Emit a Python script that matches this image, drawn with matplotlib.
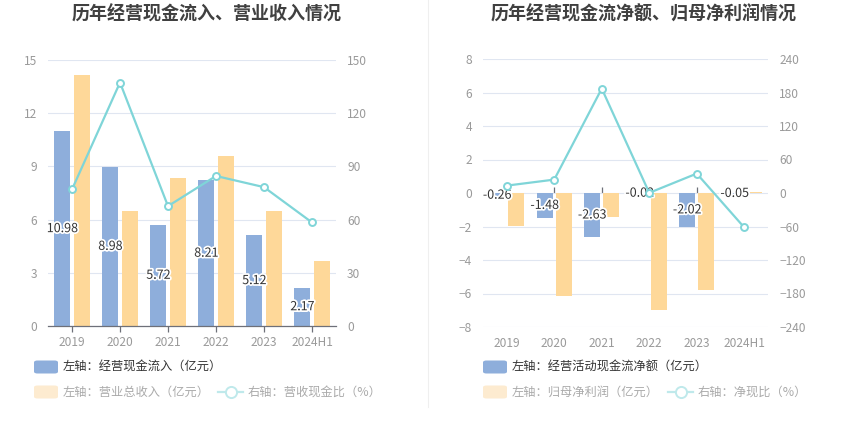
import matplotlib
matplotlib.use("Agg")
import matplotlib.pyplot as plt
from matplotlib.patches import FancyBboxPatch
from matplotlib.lines import Line2D
import matplotlib.patheffects as pe
import numpy as np

plt.rcParams['font.family'] = ['Noto Sans CJK SC', 'DejaVu Sans']

# ---------------- data ----------------
categories = ["2019", "2020", "2021", "2022", "2023", "2024H1"]

# left chart
cash_inflow = [10.98, 8.98, 5.72, 8.21, 5.12, 2.17]          # 经营现金流入 (亿元)
revenue = [14.18, 6.46, 8.37, 9.61, 6.46, 3.65]               # 营业总收入 (亿元)
cash_revenue_ratio = [77.0, 137.3, 67.6, 84.6, 78.3, 58.4]    # 营收现金比 (%)

# right chart
net_cash_flow = [-0.26, -1.48, -2.63, -0.02, -2.02, -0.05]    # 经营活动现金流净额 (亿元)
net_profit = [-1.98, -6.13, -1.42, -6.97, -5.77, 0.08]        # 归母净利润 (亿元)
net_cash_ratio = [13.2, 24.0, 187.0, 0.3, 34.8, -61.7]        # 净现比 (%)

left_titles = "历年经营现金流入、营业收入情况"
right_titles = "历年经营现金流净额、归母净利润情况"
left_legend = ["左轴：经营现金流入（亿元）", "左轴：营业总收入（亿元）", "右轴：营收现金比（%）"]
right_legend = ["左轴：经营活动现金流净额（亿元）", "左轴：归母净利润（亿元）", "右轴：净现比（%）"]

# ---------------- style ----------------
BLUE = "#8eaedb"
ORANGE = "#fed899"
CYAN = "#7fd5d8"
GRID = "#e0e6f1"
AXIS = "#6e7079"
TICK_TXT = "#9a9a9a"
W, H = 850, 437

fig = plt.figure(figsize=(W / 100, H / 100), dpi=100)


def fx(x):
    return x / W


def fy(y):
    return 1 - y / H


def make_axes(x0, x1, y0, y1):
    return fig.add_axes([fx(x0), fy(y1), fx(x1) - fx(x0), fy(y0) - fy(y1)])


def style_axes(ax, ax2, ylim, yticks, y2lim, y2ticks, zero_axis):
    x = np.arange(len(categories))
    ax.set_xlim(-0.5, len(categories) - 0.5)
    ax.set_ylim(*ylim)
    ax.set_yticks(yticks)
    ax.set_xticks(x)
    ax.set_xticklabels(categories)
    ax2.set_ylim(*y2lim)
    ax2.set_yticks(y2ticks)
    for a in (ax, ax2):
        for s in a.spines.values():
            s.set_visible(False)
        a.tick_params(axis='y', length=0, labelsize=8.6, labelcolor=TICK_TXT)
    ax.tick_params(axis='y', pad=8)
    ax2.tick_params(axis='y', pad=8)
    ax.grid(axis='y', color=GRID, linewidth=0.8)
    ax.set_axisbelow(True)
    ax.tick_params(axis='x', labelsize=8.6, labelcolor=TICK_TXT)
    if zero_axis:
        ax.tick_params(axis='x', length=0, pad=7)
        loc = (0 - ylim[0]) / (ylim[1] - ylim[0])
        sec = ax.secondary_xaxis(loc)
        sec.set_xticks(x)
        sec.set_xticklabels([""] * len(x))
        sec.spines['bottom'].set_color(AXIS)
        sec.spines['bottom'].set_linewidth(0.9)
        sec.tick_params(axis='x', length=4, color=AXIS, width=0.9)
        sec.spines['top'].set_visible(False)
    else:
        ax.spines['bottom'].set_visible(True)
        ax.spines['bottom'].set_color(AXIS)
        ax.spines['bottom'].set_linewidth(0.9)
        ax.tick_params(axis='x', length=4, color=AXIS, width=0.9, pad=3)


def draw_chart(ax, bars_a, bars_b, ratio, ylim, yticks, y2lim, y2ticks, zero_axis):
    x = np.arange(len(categories))
    bw = 0.335
    ax.bar(x - 0.2, bars_a, width=bw, color=BLUE, zorder=2)
    ax.bar(x + 0.2, bars_b, width=bw, color=ORANGE, zorder=2)
    for xi, v in zip(x, bars_a):
        ax.text(xi - 0.2, v / 2, f"{v:.2f}", ha='center', va='center', fontsize=9,
                color="#333333", zorder=5,
                path_effects=[pe.withStroke(linewidth=2.5, foreground='white')])
    ax2 = ax.twinx()
    ax2.plot(x, ratio, color=CYAN, linewidth=1.6, marker='o', markersize=5,
             markerfacecolor='white', markeredgecolor=CYAN, markeredgewidth=1.4, zorder=4)
    style_axes(ax, ax2, ylim, yticks, y2lim, y2ticks, zero_axis)
    return ax2


axL = make_axes(48, 336, 60, 326)
draw_chart(axL, cash_inflow, revenue, cash_revenue_ratio,
           (0, 15), np.arange(0, 16, 3), (0, 150), np.arange(0, 151, 30), False)

axR = make_axes(483, 768, 59, 327)
draw_chart(axR, net_cash_flow, net_profit, net_cash_ratio,
           (-8, 8), np.arange(-8, 9, 2), (-240, 240), np.arange(-240, 241, 60), True)

# titles
fig.text(fx(207), fy(14), left_titles, ha='center', va='center', fontsize=13,
         fontweight='bold', color="#404040")
fig.text(fx(644), fy(14), right_titles, ha='center', va='center', fontsize=13,
         fontweight='bold', color="#404040")

# divider
fig.add_artist(Line2D([fx(428), fx(428)], [fy(0), fy(407)], color="#efefef", linewidth=0.8))


# legends
def legend_block(x_patch, x_line, labels):
    r1, r2 = 367, 392
    for yc, col, txt, tcol in ((r1, BLUE, labels[0], "#333333"),
                               (r2, "#fdebd0", labels[1], "#aaaaaa")):
        p = FancyBboxPatch((fx(x_patch), fy(yc + 6.5)), fx(24), 13 / H,
                           boxstyle="round,pad=0,rounding_size=0.004",
                           transform=fig.transFigure, facecolor=col, edgecolor='none')
        fig.add_artist(p)
        fig.text(fx(x_patch + 29), fy(yc), txt, ha='left', va='center',
                 fontsize=8.8, color=tcol)
    fig.add_artist(Line2D([fx(x_line), fx(x_line + 25)], [fy(r2), fy(r2)],
                          color="#bfe9eb", linewidth=1.6))
    fig.add_artist(Line2D([fx(x_line + 12.5)], [fy(r2)], marker='o', markersize=8,
                          markerfacecolor='white', markeredgecolor="#bfe9eb",
                          markeredgewidth=1.4, linestyle='none'))
    fig.text(fx(x_line + 30), fy(r2), labels[2], ha='left', va='center',
             fontsize=8.8, color="#aaaaaa")


legend_block(34, 218, left_legend)
legend_block(483, 668, right_legend)

fig.savefig("out.png", dpi=100)
